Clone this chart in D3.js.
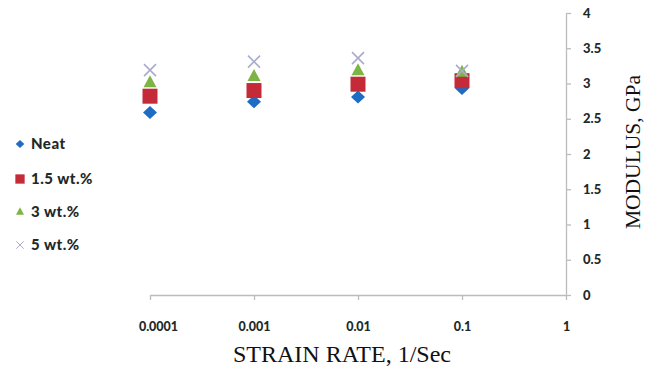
<!DOCTYPE html>
<html>
<head>
<meta charset="utf-8">
<script src="https://cdn.jsdelivr.net/npm/d3@7"></script>
<style>
  html, body { margin: 0; padding: 0; background: #fff; }
  svg { display: block; }
  .tick text { font-family: Lato, "Open Sans", sans-serif; font-weight: 900; fill: #1e2a2a; }
</style>
</head>
<body>
<div id="chart"></div>
<script>
// Strain-rate sensitivity of the elastic modulus
const strainRates = [0.0001, 0.001, 0.01, 0.1];
const xTickValues = [0.0001, 0.001, 0.01, 0.1, 1];
const xTickLabels = ["0.0001", "0.001", "0.01", "0.1", "1"];
const yTickValues = [0, 0.5, 1, 1.5, 2, 2.5, 3, 3.5, 4];
const yTickLabels = ["0", "0.5", "1", "1.5", "2", "2.5", "3", "3.5", "4"];

const seriesNames = ["Neat", "1.5 wt.%", "3 wt.%", "5 wt.%"];
const neat = [2.59, 2.74, 2.81, 2.93];
const wt15 = [2.82, 2.90, 2.99, 3.04];
const wt3  = [3.01, 3.10, 3.18, 3.16];
const wt5  = [3.19, 3.31, 3.36, 3.18];

const seriesValues = [neat, wt15, wt3, wt5];
const colors = ["#1f6cc4", "#c52a38", "#7db545", "#aaaccd"];
const shapes = ["diamond", "square", "triangle", "cross"];

const W = 650, H = 372;
const svg = d3.select("#chart").append("svg").attr("width", W).attr("height", H);

const x = d3.scaleLog().domain([0.0001, 1]).range([150, 566]);
const y = d3.scaleLinear().domain([0, 4]).range([295, 13]);

const axisColor = "#bcbcbc";

// x axis (bottom)
const xAxis = d3.axisBottom(x)
  .tickValues(xTickValues)
  .tickFormat((d, i) => xTickLabels[i])
  .tickSize(5).tickSizeOuter(0).tickPadding(22);
const gx = svg.append("g").attr("transform", `translate(0,${y(0)})`).call(xAxis);
gx.select(".domain").attr("stroke", axisColor).attr("stroke-width", 1.3);
gx.selectAll(".tick line").attr("stroke", axisColor).attr("stroke-width", 1.3);
gx.selectAll(".tick text").attr("font-size", 12.5)
  .attr("dx", (d, i) => i === 0 ? 8 : 0);

// y axis (right side)
const yAxis = d3.axisRight(y)
  .tickValues(yTickValues)
  .tickFormat((d, i) => yTickLabels[i])
  .tickSize(5).tickSizeOuter(0).tickPadding(12);
const gy = svg.append("g").attr("transform", `translate(${x(1)},0)`).call(yAxis);
gy.select(".domain").attr("stroke", axisColor).attr("stroke-width", 1.3);
gy.selectAll(".tick line").attr("stroke", axisColor).attr("stroke-width", 1.3);
gy.selectAll(".tick text").attr("font-size", 13);

// axis titles
svg.append("text")
  .attr("x", 342).attr("y", 362)
  .attr("text-anchor", "middle")
  .attr("font-family", "'Liberation Serif', 'Times New Roman', serif")
  .attr("font-size", 24).attr("fill", "#111")
  .text("STRAIN RATE, 1/Sec");

svg.append("text")
  .attr("transform", "translate(640,152) rotate(-90)")
  .attr("text-anchor", "middle")
  .attr("font-family", "'Liberation Serif', 'Times New Roman', serif")
  .attr("font-size", 21.5).attr("fill", "#111")
  .text("MODULUS, GPa");

// marker drawing
function drawMarker(g, shape, color) {
  if (shape === "diamond") {
    g.append("path").attr("d", "M0,-6.5L7,0L0,6.5L-7,0Z").attr("fill", color);
  } else if (shape === "square") {
    g.append("rect").attr("x", -7.5).attr("y", -7.5).attr("width", 15).attr("height", 15)
      .attr("fill", color);
  } else if (shape === "triangle") {
    g.append("path").attr("d", "M0,-7.5L6.5,4.5L-6.5,4.5Z").attr("fill", color);
  } else {
    g.append("path").attr("d", "M-6,-6L6,6M-6,6L6,-6")
      .attr("stroke", color).attr("stroke-width", 1.6).attr("fill", "none");
  }
}

// data points, series drawn in order so later ones sit on top
seriesValues.forEach((vals, s) => {
  const g = svg.append("g").attr("class", "series");
  vals.forEach((v, i) => {
    const m = g.append("g").attr("transform", `translate(${x(strainRates[i])},${y(v)})`);
    drawMarker(m, shapes[s], colors[s]);
  });
});

// legend
const legendY = [144, 179, 212, 245];
seriesNames.forEach((name, s) => {
  const row = svg.append("g").attr("transform", `translate(20,${legendY[s]})`);
  const m = row.append("g").attr("transform", "scale(0.62)");
  drawMarker(m, shapes[s], colors[s]);
  row.append("text")
    .attr("x", 11).attr("y", 5)
    .attr("font-family", "Lato, 'Open Sans', sans-serif")
    .attr("font-weight", 900)
    .attr("font-size", 15)
    .attr("letter-spacing", 0.5)
    .attr("fill", "#1e2a2a")
    .text(name);
});
</script>
</body>
</html>
